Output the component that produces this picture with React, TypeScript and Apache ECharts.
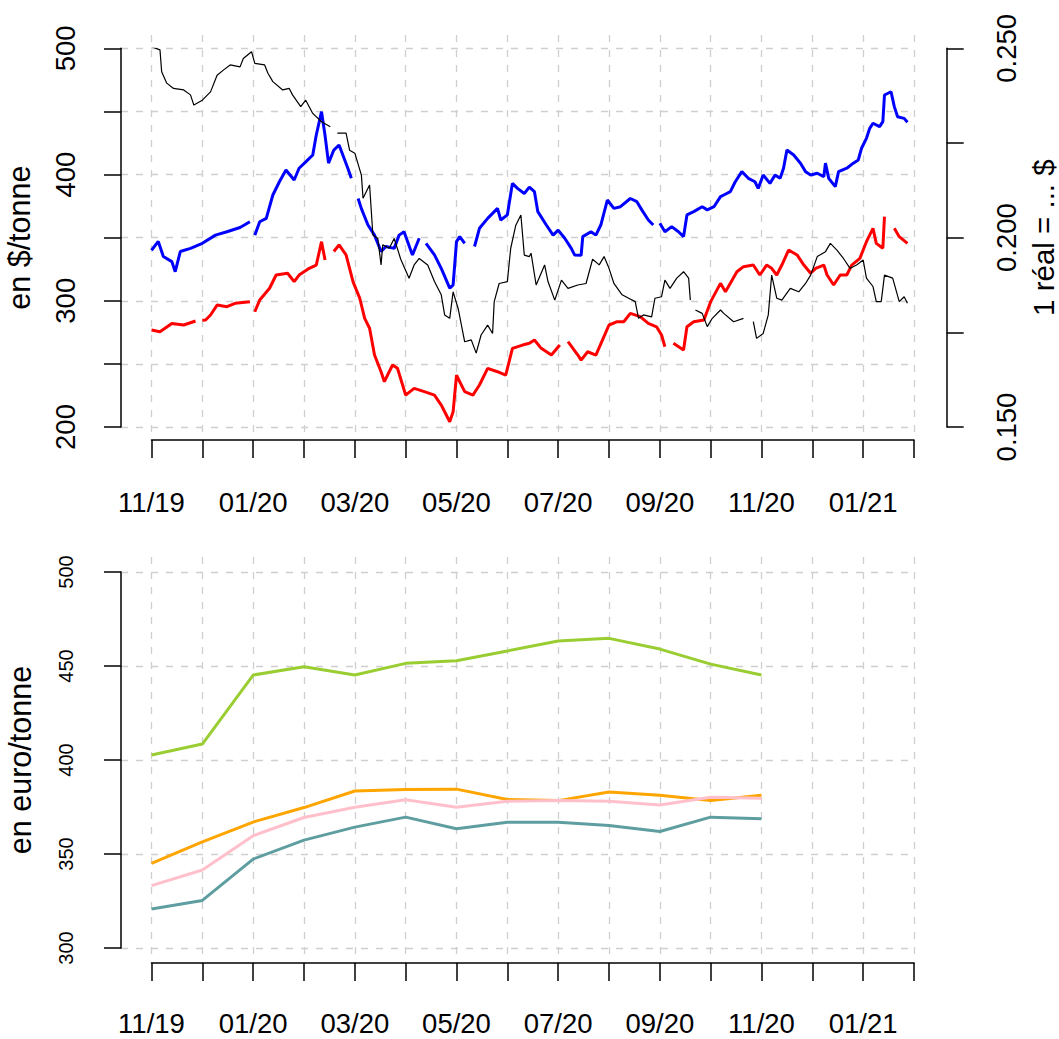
import React, { useEffect, useRef } from "react";
import * as echarts from "echarts";

// ---------- DATA ----------
const BASE_DATE = [2019, 10, 1]; // 1 Nov 2019 (month 0-based)

const monthLabels = [
  "11/19", "12/19", "01/20", "02/20", "03/20", "04/20", "05/20", "06/20",
  "07/20", "08/20", "09/20", "10/20", "11/20", "12/20", "01/21", "02/21",
];

// Top panel: days since 1 Nov 2019 and values ($/tonne)
const blueDays = [0,4,7,12,14,17,23,30,38,45,53,59,60,62,65,69,73,77,81,86,89,93,97,99,102,104,106,109,112,117,119,120,123,125,129,133,137,140,145,148,151,156,160,162,164,169,173,178,180,182,184,187,190,193,196,201,207,209,213,216,219,223,226,229,231,236,240,243,247,251,253,257,258,263,266,269,273,277,281,287,291,294,298,301,303,305,308,312,316,319,321,325,330,333,337,341,343,347,350,354,358,362,364,367,371,374,377,379,381,385,389,392,395,399,403,404,406,410,412,417,421,424,426,429,431,433,437,439,440,444,446,448,452,454];
const blueValues = [340,347,335,331,323,339,341.5,345.5,352,354.7,358,362.6,null,352,362.6,365.3,383.8,394.3,403.6,395.7,405,410,415.5,431.3,449.8,431,409,419.4,423.4,405,397,null,381,373,360,352,339,343,341.5,352,354.7,336.3,349.5,null,345.5,336.3,325.7,310,312.5,346.8,350.8,345.5,null,343,357.4,365.3,373.2,364,368,393,389,385,390,386.4,370.6,360,352,356,349.5,341.5,336.3,336,350.8,354.7,352,360,379.8,373.2,374.5,381,378.5,372,364,360,null,361.4,354.7,358.7,354.7,350.8,368,370.6,374.5,372,374.5,382.5,383.8,386.4,394.3,402.3,397,394.3,389,399.6,393,399.6,397,405,419.4,415.5,408.9,402.3,399.6,401,398.3,409,397,390.4,402.3,405,409,411.5,420.8,428.7,436.6,440.6,438,441.9,463,465.6,453.8,445.8,444.5,441.4];

const redDays = [0,5,12,19,26,27,30,32,35,39,45,50,59,60,62,65,71,75,82,86,89,95,99,102,104,106,109,112,116,120,124,127,130,133,137,139,144,147,152,157,163,169,173,178,180,182,187,192,196,201,207,212,216,222,226,229,233,239,244,246,249,255,257,261,266,270,274,279,283,287,293,298,303,306,308,310,313,319,321,325,331,335,341,344,347,351,355,361,365,369,372,375,378,382,387,391,395,398,403,405,409,413,417,420,425,429,433,435,439,440,442,446,449,454];
const redValues = [276.8,275.5,282,280.8,284,null,284.5,284.8,288.7,296.6,295.3,298,299.3,null,291.3,300.6,309.9,320.4,321.8,315.1,320.4,325.7,328.3,346.8,332.3,null,339,344.2,336.3,315,302,286,278.2,257,243.8,235.9,249.1,246.5,225.3,230.6,228,225.3,217.4,204.2,212,241,228,225.3,233.3,246.5,243.8,241,262.3,264.9,266.3,268.9,262.3,257,265,null,267.6,257,253,259.6,257,268.9,280.8,283.4,283.4,290,287.4,282.1,279.4,272.9,263.6,null,266.3,261,279.4,283.4,284.8,299.3,313.8,307.2,313.8,323,327,328.3,320.4,328.3,325.7,320.4,328.3,340.2,336.3,328.3,321.8,325.7,328.3,320.4,312.5,320.4,320.4,328.3,333.6,346.8,357.4,345.5,341.6,366.6,null,357.4,350.8,345.5];

// Exchange rate: 1 real = ... $
const blackDays = [0,5,6,9,13,19,23,25,30,35,39,43,47,53,55,60,62,68,70,73,79,83,85,90,93,97,102,107,109,111,116,118,121,125,126,130,132,135,137,138,142,145,149,154,157,160,165,169,173,175,178,180,183,187,191,194,197,201,204,205,208,213,215,218,221,223,226,227,230,235,237,241,245,249,255,260,264,268,271,274,277,282,286,290,292,295,300,302,306,308,311,315,319,322,323,324,326,330,333,336,341,343,349,355,358,361,363,367,370,372,375,378,383,388,392,395,399,404,407,411,415,419,423,427,429,433,435,438,440,445,447,449,452,454];
const blackValues = [0.2504,0.2496,0.2438,0.2408,0.2394,0.239,0.2377,0.235,0.2363,0.2385,0.2429,0.2443,0.2456,0.2451,0.2473,0.2491,0.246,0.2456,0.2434,0.2412,0.239,0.2394,0.2377,0.2346,0.2363,0.2328,0.2306,0.2293,null,0.2276,0.2276,0.2231,0.2223,0.2165,0.2104,0.2139,0.2007,0.1998,0.1928,0.1981,0.1972,0.1998,0.1943,0.1893,0.1928,0.1945,0.1928,0.1884,0.1849,0.1796,0.1787,0.1857,0.1813,0.1725,0.173,0.1695,0.1743,0.1769,0.1747,0.1831,0.1879,0.1884,0.1972,0.2033,0.206,0.1954,0.195,0.1959,0.1875,0.1928,0.1884,0.1835,0.1888,0.1866,0.1875,0.1879,0.1943,0.1928,0.195,0.1919,0.1879,0.1849,0.184,0.1831,0.1787,0.1796,0.1791,0.184,0.1844,0.1888,0.1866,0.1893,0.191,0.1893,0.1835,null,0.1809,0.18,0.1765,0.1787,0.1809,0.18,0.1778,0.1787,null,0.1778,0.1734,0.1747,0.1796,0.1901,0.184,0.1835,0.1866,0.1857,0.1879,0.1901,0.195,0.1963,0.1985,0.1967,0.1945,0.1919,0.1928,0.1941,0.1893,0.1871,0.1831,0.1831,0.1901,0.1893,0.1862,0.1831,0.1844,0.1827];

// Bottom panel: monthly values (euro/tonne), Nov 2019 .. Nov 2020
const bottomMonthIdx = [0,1,2,3,4,5,6,7,8,9,10,11,12];
const greenValues = [402.7,408.5,445.2,449.6,445.2,451.4,452.8,458,463.3,464.7,459,451,445.2];
const orangeValues = [345,356.5,367,374.7,383.5,384.3,384.5,379,378.4,383,381.3,378.4,381.3];
const pinkValues = [333.2,341.5,359.7,369.4,374.9,378.8,374.9,378,378.4,378,376.1,380.2,379.7];
const tealValues = [320.8,325.3,347.3,357.4,364.3,369.6,363.4,366.9,366.9,365.2,362,369.6,368.7];

// ---------- HELPERS ----------
function dayToMonth(d: number): number {
  const dt = new Date(Date.UTC(BASE_DATE[0], BASE_DATE[1], BASE_DATE[2] + d));
  const y = dt.getUTCFullYear();
  const m = dt.getUTCMonth();
  const dd = dt.getUTCDate();
  const dim = new Date(Date.UTC(y, m + 1, 0)).getUTCDate();
  return (y - BASE_DATE[0]) * 12 + (m - BASE_DATE[1]) + (dd - 1) / dim;
}
function pairs(days: number[], vals: (number | null)[]) {
  return days.map((d, i) => [dayToMonth(d), vals[i] === null ? "-" : vals[i]]);
}

const FONT = '"Liberation Sans", Arial, Helvetica, sans-serif';
const GRID_LINE = { show: true, lineStyle: { color: "#cfcfcf", width: 1.3, type: [7, 8] as any } };
const AX_LINE = { show: true, onZero: false, lineStyle: { color: "#000", width: 1.5 } };
const hiddenAxis = (gridIndex: number) => ({ gridIndex, type: "value", show: false, min: 0, max: 1 });
const onlySplit = (gridIndex: number, min: number, max: number, interval: number) => ({
  gridIndex, type: "value", min, max, interval,
  axisLine: { show: false, onZero: false }, axisTick: { show: false }, axisLabel: { show: false },
  splitLine: GRID_LINE,
});

const X0 = 151.5, XW = 762.5;

function monthAxis(gridIndex: number, offset: number, margin: number) {
  return {
    gridIndex, type: "value", min: 0, max: 15, interval: 1, position: "bottom", offset,
    axisLine: AX_LINE,
    axisTick: { show: true, length: 18, lineStyle: { color: "#000", width: 1.5 } },
    splitLine: { show: false },
    axisLabel: {
      show: true, margin, verticalAlign: "middle", color: "#000",
      fontFamily: FONT, fontSize: 27.5,
      formatter: (v: number) => {
        const i = Math.round(v);
        return i % 2 === 0 ? monthLabels[i] : "";
      },
    },
  };
}

export default function App() {
  const ref = useRef<HTMLDivElement>(null);
  useEffect(() => {
    const chart = echarts.init(ref.current!, null, { renderer: "svg" });
    const lineS = (name: string, xi: number, yi: number, data: any[], color: string, width: number) => ({
      name, type: "line", xAxisIndex: xi, yAxisIndex: yi, data, showSymbol: false, symbol: "none",
      connectNulls: false, lineStyle: { color, width }, itemStyle: { color }, z: 3,
    });
    const g = (left: number, top: number, width: number, height: number) => ({
      left, top, width, height, containLabel: false, outerBoundsMode: "none",
    });
    const option: any = {
      animation: false,
      backgroundColor: "#ffffff",
      textStyle: { fontFamily: FONT },
      grid: [
        g(121, 48.3, 793, 378.7),
        g(X0, 35, XW, 405),
        g(X0, 48.3, XW, 378.7),
        g(121, 572, 793, 376),
        g(X0, 557, XW, 406),
        g(X0, 572, XW, 376),
      ],
      xAxis: [
        hiddenAxis(0),
        onlySplit(1, 0, 15, 1),
        monthAxis(2, 13, 62),
        hiddenAxis(3),
        onlySplit(4, 0, 15, 1),
        monthAxis(5, 15, 60),
      ],
      yAxis: [
        onlySplit(0, 200, 500, 50),
        hiddenAxis(1),
        {
          gridIndex: 2, type: "value", min: 200, max: 500, interval: 50, position: "left", offset: X0 - 121,
          axisLine: AX_LINE,
          axisTick: { show: true, length: 17, lineStyle: { color: "#000", width: 1.5 } },
          splitLine: { show: false },
          axisLabel: {
            rotate: 90, margin: 42, color: "#000", fontFamily: FONT, fontSize: 27.5,
            formatter: (v: number) => (Math.round(v) % 100 === 0 ? String(Math.round(v)) : ""),
          },
          name: "en $/tonne", nameLocation: "middle", nameRotate: 90, nameGap: 87,
          nameTextStyle: { color: "#000", fontFamily: FONT, fontSize: 30.5 },
        },
        {
          gridIndex: 2, type: "value", min: 0.15, max: 0.25, interval: 0.025, position: "right", offset: 946.7 - (X0 + XW),
          axisLine: AX_LINE,
          axisTick: { show: true, length: 17, lineStyle: { color: "#000", width: 1.5 } },
          splitLine: { show: false },
          axisLabel: {
            rotate: 90, margin: 46, color: "#000", fontFamily: FONT, fontSize: 27.5,
            formatter: (v: number) => (Math.round(v * 1000) % 50 === 0 ? v.toFixed(3) : ""),
          },
          name: "1 réal = ... $", nameLocation: "middle", nameRotate: 90, nameGap: 76,
          nameTextStyle: { color: "#000", fontFamily: FONT, fontSize: 29.5 },
        },
        onlySplit(3, 300, 500, 50),
        hiddenAxis(4),
        {
          gridIndex: 5, type: "value", min: 300, max: 500, interval: 50, position: "left", offset: X0 - 121,
          axisLine: AX_LINE,
          axisTick: { show: true, length: 17, lineStyle: { color: "#000", width: 1.5 } },
          splitLine: { show: false },
          axisLabel: {
            rotate: 90, margin: 45, color: "#000", fontFamily: FONT, fontSize: 20,
          },
          name: "en euro/tonne", nameLocation: "middle", nameRotate: 90, nameGap: 86,
          nameTextStyle: { color: "#000", fontFamily: FONT, fontSize: 30.5 },
        },
      ],
      series: [
        lineS("blue", 2, 2, pairs(blueDays, blueValues), "#0000ff", 3),
        lineS("red", 2, 2, pairs(redDays, redValues), "#ff0000", 3),
        lineS("real", 2, 3, pairs(blackDays, blackValues), "#000000", 1.2),
        lineS("green", 5, 6, bottomMonthIdx.map((m, i) => [m, greenValues[i]]), "#9acd32", 3),
        lineS("orange", 5, 6, bottomMonthIdx.map((m, i) => [m, orangeValues[i]]), "#ffa500", 3),
        lineS("pink", 5, 6, bottomMonthIdx.map((m, i) => [m, pinkValues[i]]), "#ffc0cb", 3),
        lineS("teal", 5, 6, bottomMonthIdx.map((m, i) => [m, tealValues[i]]), "#5f9ea0", 3),
      ],
    };
    chart.setOption(option);
    return () => chart.dispose();
  }, []);
  return (
    <div
      ref={ref}
      style={{ position: "absolute", left: 0, top: 0, width: 1059, height: 1039, background: "#fff" }}
    />
  );
}
